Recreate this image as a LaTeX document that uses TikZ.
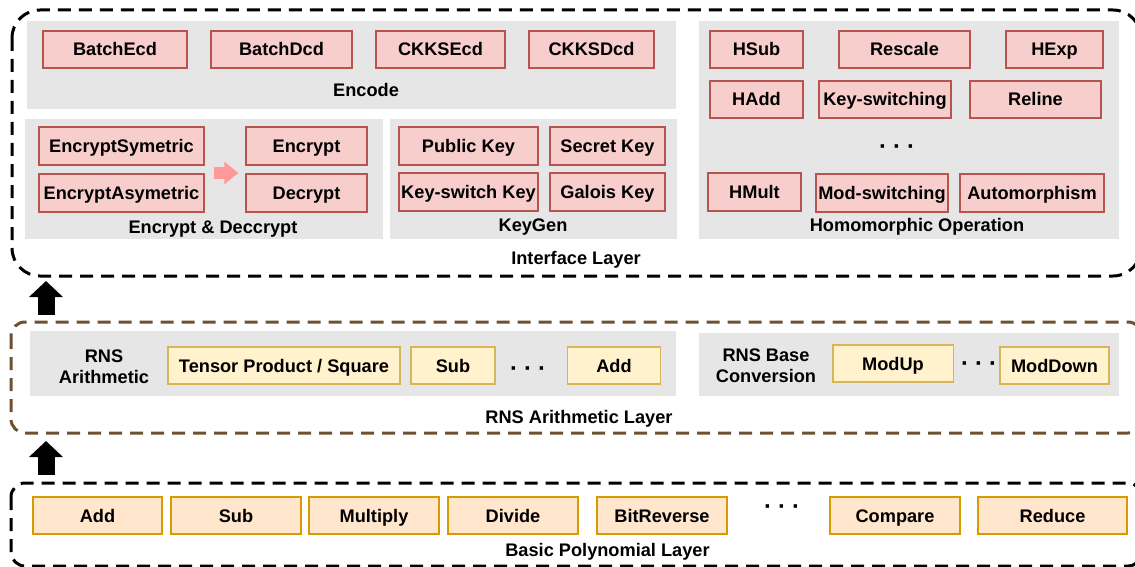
\documentclass[tikz,border=0pt]{standalone}
\usepackage{fontspec}
\setmainfont{Liberation Sans}
\usetikzlibrary{arrows.meta,calc}

\definecolor{panelgray}{HTML}{E6E6E6}
\definecolor{redfill}{HTML}{F8CECC}
\definecolor{redline}{HTML}{B85450}
\definecolor{yelfill}{HTML}{FFF2CC}
\definecolor{yelline}{HTML}{D6B656}
\definecolor{orafill}{HTML}{FFE6CC}
\definecolor{oraline}{HTML}{D79B00}
\definecolor{layerbrown}{HTML}{6F5030}
\definecolor{pinkarrow}{HTML}{FF9999}

\begin{document}
\begin{tikzpicture}[x=1pt,y=-1pt,
  every node/.style={font=\bfseries\fontsize{18.2}{22}\selectfont, inner sep=0pt},
  lbl/.style={text height=13pt, text depth=0pt},
  fnbox/.style={draw, line width=1.5pt, minimum height=37pt, text height=13pt, text depth=0pt},
  redbox/.style={fnbox, fill=redfill, draw=redline},
  yelbox/.style={fnbox, fill=yelfill, draw=yelline},
  orabox/.style={fnbox, fill=orafill, draw=oraline},
  panel/.style={fill=panelgray},
  layer/.style={line width=3pt, dash pattern=on 13pt off 8pt},
  dots/.style={font=\bfseries\fontsize{24}{24}\selectfont, text height=16pt, text depth=0pt},
  uparrow/.style={line width=17pt, -{Triangle[length=16pt,width=33pt]}},
]
\useasboundingbox (0,0) rectangle (1135,567);
\clip (0,0) rectangle (1135,567);

% ---------------- Interface layer ----------------
\draw[layer, rounded corners=28pt] (12,10) rectangle (1141,276);

\fill[panel] (27,21) rectangle (676,109);
\fill[panel] (25,119) rectangle (383,239);
\fill[panel] (390,119) rectangle (677,239);
\fill[panel] (699,21) rectangle (1119,239);

% Encode
\node[redbox, minimum width=144pt] (batchecd) at (115,49.5) {BatchEcd};
\node[redbox, minimum width=141pt] (batchdcd) at (281.5,49.5) {BatchDcd};
\node[redbox, minimum width=129pt] (ckksecd) at (440.5,49.5) {CKKSEcd};
\node[redbox, minimum width=125pt] (ckksdcd) at (591.5,49.5) {CKKSDcd};
\node[lbl] (encode) at (366,90.5) {Encode};

% Encrypt & Decrypt
\node[redbox, minimum width=165pt, minimum height=38pt] (encsym) at (121.5,146) {EncryptSymetric};
\node[redbox, minimum width=165pt, minimum height=38pt] (encasym) at (121.5,193) {EncryptAsymetric};
\node[redbox, minimum width=121pt, minimum height=38pt] (encrypt) at (306.5,146) {Encrypt};
\node[redbox, minimum width=121pt, minimum height=38pt] (decrypt) at (306.5,193) {Decrypt};
\coordinate (pinkfrom) at ($(encsym.south east)!0.5!(encasym.north east)+(9,3.5)$);
\coordinate (pinkto) at ($(encrypt.south west)!0.5!(decrypt.north west)+(-7,3.5)$);
\draw[pinkarrow, line width=12pt, -{Triangle[length=14pt,width=22pt]}] (pinkfrom) -- (pinkto);
\node[lbl] (encdec) at (213,227) {Encrypt \& Deccrypt};

% KeyGen
\node[redbox, minimum width=139pt, minimum height=38pt] (pubkey) at (468.5,146) {Public Key};
\node[redbox, minimum width=115pt, minimum height=38pt] (seckey) at (607.5,146) {Secret Key};
\node[redbox, minimum width=139pt, minimum height=38pt] (kskey) at (468.5,192) {Key-switch Key};
\node[redbox, minimum width=115pt, minimum height=38pt] (galkey) at (607.5,192) {Galois Key};
\node[lbl] (keygen) at (533,225) {KeyGen};

% Homomorphic operations
\node[redbox, minimum width=93pt] (hsub) at (756.5,49.5) {HSub};
\node[redbox, minimum width=131pt] (rescale) at (904.5,49.5) {Rescale};
\node[redbox, minimum width=97pt] (hexp) at (1054.5,49.5) {HExp};
\node[redbox, minimum width=93pt] (hadd) at (756.5,99.5) {HAdd};
\node[redbox, minimum width=132pt] (keyswitching) at (885,99.5) {Key-switching};
\node[redbox, minimum width=131pt] (reline) at (1035.5,99.5) {Reline};
\node[dots] (homdots) at (897,146) {·\hspace{6pt}·\hspace{6pt}·};
\node[redbox, minimum width=93pt, minimum height=38pt] (hmult) at (754.5,192) {HMult};
\node[redbox, minimum width=132pt, minimum height=38pt] (modswitching) at (882,193) {Mod-switching};
\node[redbox, minimum width=144pt, minimum height=38pt] (automorphism) at (1032,193) {Automorphism};
\node[lbl] (homop) at (917,225) {Homomorphic Operation};

\node[lbl] (interface) at (576,258) {Interface Layer};

% ---------------- RNS arithmetic layer ----------------
\draw[layer, draw=layerbrown, rounded corners=14pt] (11,322) rectangle (1142,433);
\fill[panel] (30,331) rectangle (676,396);
\fill[panel] (699,333) rectangle (1118.5,396);

\node[align=center] (rnsarith) at (104,367) {RNS\\[-1pt]Arithmetic};
\node[yelbox, minimum width=232pt] (tensor) at (284,365.5) {Tensor Product / Square};
\node[yelbox, minimum width=84pt] (rnssub) at (453,365.5) {Sub};
\node[dots] (rnsdots) at (528,368) {·\hspace{6pt}·\hspace{6pt}·};
\node[yelbox, minimum width=93pt] (rnsadd) at (614,365.5) {Add};

\node[align=center] (rnsbase) at (766,366) {RNS Base\\[-1pt]Conversion};
\node[yelbox, minimum width=120.5pt] (modup) at (893,363.5) {ModUp};
\node[dots] (basedots) at (979,363) {·\hspace{6pt}·\hspace{6pt}·};
\node[yelbox, minimum width=109pt] (moddown) at (1054.5,365.5) {ModDown};

\node[lbl] (rnslayer) at (579,416.5) {RNS Arithmetic Layer};

% ---------------- Basic polynomial layer ----------------
\draw[layer, rounded corners=14pt] (11,483) rectangle (1142,566);

\node[orabox, minimum width=129pt] (padd) at (97.5,515.5) {Add};
\node[orabox, minimum width=130pt] (psub) at (236,515.5) {Sub};
\node[orabox, minimum width=130pt] (pmul) at (374,515.5) {Multiply};
\node[orabox, minimum width=130pt] (pdiv) at (513,515.5) {Divide};
\node[orabox, minimum width=130pt] (pbitrev) at (662,515.5) {BitReverse};
\node[dots] (polydots) at (782,506) {·\hspace{6pt}·\hspace{6pt}·};
\node[orabox, minimum width=130pt] (pcmp) at (895,515.5) {Compare};
\node[orabox, minimum width=149pt] (preduce) at (1052.5,515.5) {Reduce};

\node[lbl] (polylayer) at (607.5,550) {Basic Polynomial Layer};

% ---------------- Layer arrows ----------------
\coordinate (up1from) at (46,315);
\coordinate (up1to) at (46,281);
\coordinate (up2from) at (46,475);
\coordinate (up2to) at (46,441);
\draw[uparrow] (up1from) -- (up1to);
\draw[uparrow] (up2from) -- (up2to);
\end{tikzpicture}
\end{document}
